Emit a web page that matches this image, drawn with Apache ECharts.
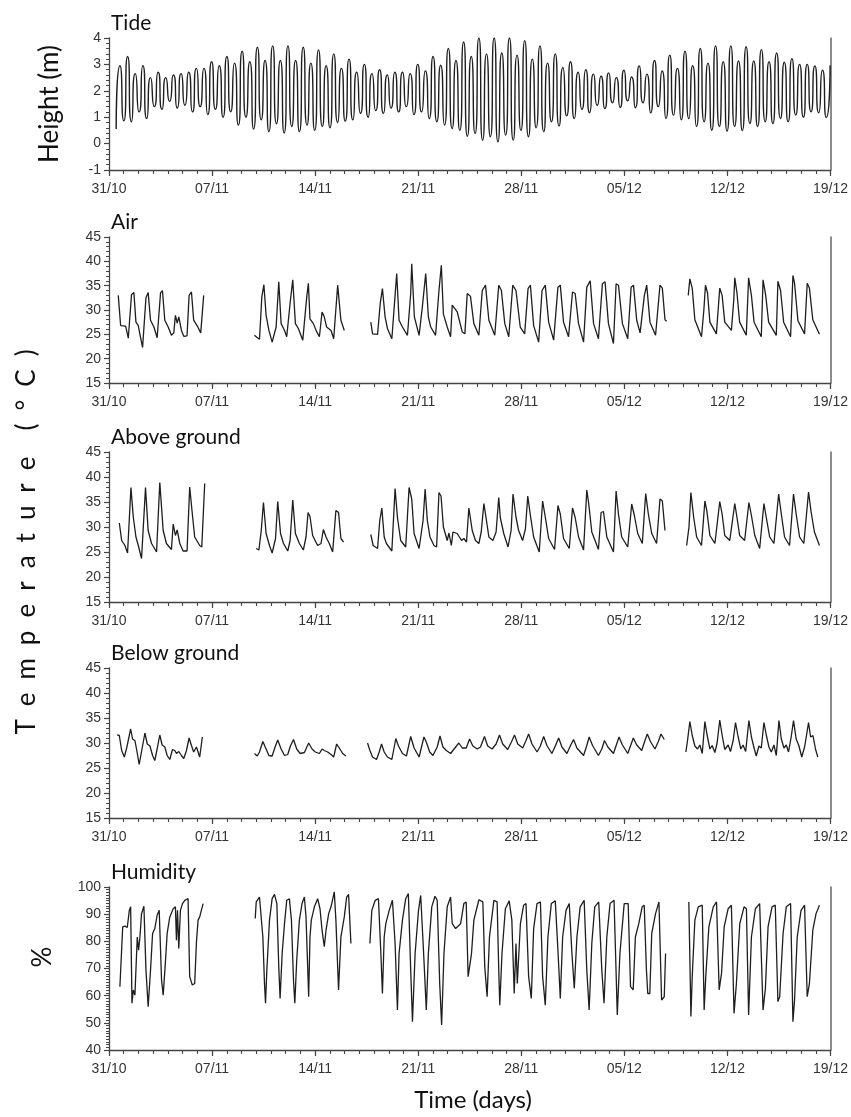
<!DOCTYPE html>
<html>
<head>
<meta charset="utf-8">
<script src="https://cdn.jsdelivr.net/npm/echarts@6/dist/echarts.min.js"></script>
<style>
  html, body { margin: 0; padding: 0; background: #fff; }
  #chart { width: 851px; height: 1117px; }
</style>
</head>
<body>
<div id="chart"></div>
<script>
// x values are days counted from 31/10 00:00
const dateLabels = ['31/10', '07/11', '14/11', '21/11', '28/11', '05/12', '12/12', '19/12'];
const panelTitles = ['Tide', 'Air', 'Above ground', 'Below ground', 'Humidity'];

// tide: successive low / high waters
const tideStart = 0.486;   // first low water (days)
const tideStep = 0.2593;   // low -> high -> low spacing (days)
const tideLevels = [
  0.55, 2.95, 0.86, 3.3, 0.83, 2.65, 1.2, 2.95, 0.95, 2.5, 1.4, 2.7, 1.3, 2.5, 1.6, 2.6, 1.35, 2.65, 1.45, 2.7,
  1.2, 2.85, 1.4, 2.85, 1.1, 3.1, 1.3, 2.95, 1.0, 3.3, 1.2, 3.05, 0.7, 3.5, 1.0, 3.1, 0.55, 3.65, 0.9, 3.15,
  0.45, 3.7, 0.75, 3.15, 0.4, 3.7, 0.65, 3.15, 0.45, 3.65, 0.7, 3.05, 0.5, 3.55, 0.65, 2.95, 0.6, 3.4, 0.8, 2.85,
  0.85, 3.2, 0.9, 2.7, 1.15, 3.0, 1.0, 2.65, 1.25, 2.8, 1.15, 2.6, 1.35, 2.7, 1.2, 2.7, 1.4, 2.65, 1.1, 3.0,
  1.2, 2.75, 0.95, 3.3, 0.83, 2.97, 0.7, 3.6, 0.57, 3.15, 0.5, 3.85, 0.28, 3.3, 0.38, 4.0, 0.13, 3.4, 0.26, 4.0,
  0.07, 3.43, 0.32, 4.0, 0.13, 3.35, 0.5, 3.9, 0.26, 3.2, 0.6, 3.7, 0.45, 3.05, 0.83, 3.4, 0.67, 2.88, 1.05, 3.1,
  0.95, 2.7, 1.3, 2.8, 1.17, 2.63, 1.45, 2.55, 1.33, 2.68, 1.55, 2.5, 1.37, 2.78, 1.62, 2.52, 1.36, 2.94, 1.55, 2.63,
  1.17, 3.15, 1.4, 2.75, 0.95, 3.35, 1.08, 2.85, 0.9, 3.5, 0.95, 2.95, 0.65, 3.6, 0.83, 3.05, 0.5, 3.7, 0.65, 3.1,
  0.47, 3.7, 0.65, 3.13, 0.49, 3.67, 0.76, 3.13, 0.65, 3.56, 0.83, 3.1, 0.76, 3.43, 0.95, 3.08, 0.83, 3.22, 1.08, 3.0,
  1.0, 3.0, 1.2, 2.94, 1.17, 2.78, 0.99, 2.97
];

// air temperature, [day, °C], one array per logging period
const air1 = [[0.63,33.0],[0.79,26.8],[1.13,26.7],[1.31,24.2],[1.53,33.2],[1.69,33.6],[1.83,27.5],[1.99,26.8],[2.10,25.0],[2.28,22.3],[2.51,32.5],[2.66,33.6],[2.82,27.9],[3.05,26.5],[3.27,24.3],[3.50,33.5],[3.63,34.0],[3.79,27.9],[4.02,26.5],[4.24,24.8],[4.40,25.3],[4.51,28.9],[4.63,27.3],[4.74,28.6],[4.92,25.8],[5.08,24.6],[5.30,24.7],[5.44,33.0],[5.60,33.7],[5.75,27.9],[5.98,26.8],[6.23,25.3],[6.43,33.0]];
const air2 = [[9.88,24.8],[10.04,24.4],[10.22,24.0],[10.38,32.7],[10.52,35.2],[10.67,28.9],[10.86,25.8],[11.08,23.4],[11.35,26.5],[11.53,35.8],[11.69,27.2],[11.92,25.8],[12.07,24.5],[12.32,32.0],[12.48,36.2],[12.66,27.2],[12.86,26.2],[13.16,23.8],[13.43,32.7],[13.54,35.5],[13.65,28.2],[13.88,27.2],[14.11,25.5],[14.29,24.5],[14.47,29.6],[14.62,28.6],[14.78,26.5],[15.08,25.8],[15.26,24.1],[15.53,35.1],[15.75,27.9],[15.98,25.8]];
const air3 = [[17.78,27.5],[17.90,25.1],[18.24,25.0],[18.42,31.3],[18.57,34.4],[18.75,28.6],[18.91,26.2],[19.21,24.1],[19.43,33.0],[19.54,37.5],[19.70,27.9],[19.93,26.5],[20.27,24.8],[20.49,33.4],[20.56,39.5],[20.74,28.6],[21.06,24.8],[21.28,30.6],[21.51,37.5],[21.69,28.6],[21.85,26.5],[22.18,24.8],[22.41,34.0],[22.57,39.2],[22.71,29.2],[22.97,26.5],[23.20,24.5],[23.31,31.0],[23.65,29.6],[23.99,25.5],[24.17,25.1],[24.33,33.4],[24.55,32.8],[24.78,27.2],[25.12,24.8],[25.35,34.0],[25.57,35.1],[25.80,27.9],[26.20,24.8],[26.47,35.1],[26.65,34.0],[26.88,27.2],[27.15,24.5],[27.42,35.1],[27.64,34.0],[27.93,26.5],[28.23,25.1],[28.46,34.4],[28.62,35.1],[28.84,26.8],[29.18,23.4],[29.41,34.0],[29.63,35.1],[29.86,27.5],[30.20,23.8],[30.49,34.7],[30.65,35.1],[30.87,27.5],[31.21,24.5],[31.48,33.7],[31.66,33.4],[31.89,27.2],[32.23,23.4],[32.45,34.7],[32.68,36.0],[32.91,27.2],[33.24,24.1],[33.51,35.4],[33.69,35.8],[33.92,27.2],[34.26,23.1],[34.44,35.4],[34.60,35.1],[34.87,27.2],[35.23,24.1],[35.46,34.7],[35.62,35.1],[35.84,27.9],[36.07,25.3],[36.36,33.0],[36.52,35.1],[36.74,27.5],[37.12,24.8],[37.42,35.1],[37.58,34.5],[37.76,28.0],[37.87,27.7]];
const air4 = [[39.34,33.0],[39.45,36.4],[39.61,34.5],[39.79,28.0],[40.24,24.5],[40.40,30.0],[40.51,35.1],[40.65,33.5],[40.81,27.5],[41.25,25.1],[41.37,30.0],[41.48,34.5],[41.64,33.0],[41.82,27.5],[42.27,25.8],[42.43,32.0],[42.50,36.6],[42.65,33.5],[42.83,27.5],[43.28,24.8],[43.44,36.6],[43.63,33.0],[43.81,27.5],[44.30,24.5],[44.42,36.2],[44.60,33.0],[44.80,27.5],[45.32,24.8],[45.43,35.9],[45.61,34.0],[45.82,27.5],[46.29,24.5],[46.45,37.1],[46.56,35.5],[46.79,27.8],[47.24,25.1],[47.42,35.5],[47.57,34.5],[47.80,28.0],[48.25,25.0]];

// above-ground temperature
const above1 = [[0.70,30.8],[0.86,27.3],[1.08,26.3],[1.26,24.8],[1.49,37.9],[1.65,32.0],[1.83,28.0],[1.99,26.3],[2.21,23.7],[2.32,23.5],[2.48,37.9],[2.66,29.3],[2.89,26.7],[3.23,25.0],[3.45,38.9],[3.68,29.3],[3.90,26.7],[4.24,25.5],[4.36,30.6],[4.51,28.3],[4.63,29.4],[4.81,26.7],[5.03,25.2],[5.30,25.2],[5.48,38.0],[5.66,32.6],[5.82,28.0],[6.16,26.3],[6.30,26.0],[6.50,38.7]];
const above2 = [[10.00,25.7],[10.18,25.4],[10.34,29.3],[10.49,34.9],[10.67,28.7],[10.90,26.3],[11.08,24.8],[11.31,27.7],[11.46,35.1],[11.65,28.7],[11.85,26.7],[12.14,25.2],[12.30,27.3],[12.48,35.4],[12.66,28.7],[12.93,26.7],[13.20,25.4],[13.38,28.0],[13.52,32.9],[13.65,32.1],[13.83,28.3],[14.17,26.3],[14.40,26.7],[14.56,29.5],[14.74,28.0],[14.96,26.7],[15.19,25.0],[15.41,33.3],[15.59,32.9],[15.75,27.7],[15.93,27.0]];
const above3 = [[17.78,28.5],[17.94,26.3],[18.24,25.7],[18.39,31.3],[18.53,33.8],[18.69,28.0],[18.84,26.7],[19.21,25.2],[19.43,37.7],[19.59,31.9],[19.81,27.3],[20.15,26.0],[20.38,37.9],[20.56,35.6],[20.72,28.7],[21.06,25.7],[21.33,31.3],[21.47,37.6],[21.62,31.3],[21.80,28.0],[22.07,26.3],[22.25,26.0],[22.41,36.9],[22.55,36.2],[22.71,30.0],[22.97,27.3],[23.09,28.8],[23.25,26.3],[23.36,29.0],[23.65,28.7],[23.94,27.3],[24.10,27.7],[24.28,27.0],[24.44,33.8],[24.67,29.3],[24.89,27.3],[25.12,26.7],[25.28,29.0],[25.46,34.7],[25.62,31.6],[25.80,28.0],[26.07,27.3],[26.29,29.0],[26.47,35.9],[26.58,31.8],[26.81,28.7],[27.10,26.0],[27.31,29.3],[27.44,36.6],[27.64,32.0],[27.82,29.3],[28.09,27.3],[28.28,29.6],[28.44,36.2],[28.62,32.3],[28.84,28.0],[29.22,25.0],[29.45,35.2],[29.63,32.0],[29.86,27.7],[30.26,25.5],[30.49,34.3],[30.65,32.6],[30.87,27.7],[31.26,25.7],[31.48,33.8],[31.66,31.9],[31.89,28.0],[32.23,25.4],[32.45,37.4],[32.57,34.9],[32.79,29.0],[33.24,25.5],[33.42,32.9],[33.58,33.1],[33.81,28.0],[34.26,25.0],[34.44,37.2],[34.60,32.6],[34.82,28.0],[35.23,26.0],[35.50,34.6],[35.68,32.3],[35.91,28.7],[36.22,26.7],[36.45,36.7],[36.63,32.6],[36.86,28.7],[37.19,26.7],[37.42,35.6],[37.58,35.2],[37.76,29.3]];
const above4 = [[39.23,26.3],[39.39,30.0],[39.52,36.9],[39.71,31.9],[39.91,28.0],[40.24,26.3],[40.47,35.2],[40.60,33.3],[40.81,28.3],[41.15,26.7],[41.48,35.1],[41.64,32.6],[41.82,28.3],[42.16,27.3],[42.50,34.7],[42.65,31.9],[42.83,28.3],[43.17,27.3],[43.46,34.9],[43.63,32.3],[43.86,28.3],[44.19,25.7],[44.48,34.7],[44.64,31.9],[44.87,28.0],[45.16,26.7],[45.48,36.6],[45.66,32.6],[45.88,28.0],[46.22,26.3],[46.49,36.6],[46.67,32.6],[46.90,28.0],[47.19,26.7],[47.51,37.0],[47.69,32.9],[47.91,29.0],[48.25,26.3]];

// below-ground temperature
const below1 = [[0.56,31.6],[0.70,31.5],[0.86,28.5],[1.04,27.2],[1.20,29.0],[1.31,29.2],[1.47,32.8],[1.60,30.8],[1.76,30.5],[1.87,28.8],[2.05,25.7],[2.21,28.3],[2.44,32.0],[2.60,29.8],[2.78,29.4],[2.96,27.5],[3.11,26.5],[3.27,28.8],[3.45,31.6],[3.61,29.6],[3.79,29.2],[3.95,27.5],[4.13,26.7],[4.31,28.7],[4.47,28.5],[4.58,27.9],[4.74,28.3],[4.92,27.5],[5.08,26.9],[5.26,28.5],[5.44,31.0],[5.60,29.5],[5.75,28.2],[5.94,29.2],[6.16,27.2],[6.34,31.2]];
const below2 = [[9.88,27.9],[10.07,27.4],[10.22,28.2],[10.45,30.3],[10.61,29.2],[10.86,27.5],[11.08,27.4],[11.28,29.2],[11.46,30.6],[11.69,28.8],[11.92,27.5],[12.14,27.7],[12.32,29.4],[12.53,30.7],[12.75,28.8],[12.98,27.9],[13.27,28.1],[13.56,30.0],[13.79,28.8],[14.01,28.2],[14.29,27.9],[14.47,28.8],[14.62,28.5],[14.85,28.2],[15.08,27.7],[15.26,27.2],[15.46,29.8],[15.64,29.0],[15.87,27.9],[16.09,27.4]];
const below3 = [[17.56,30.0],[17.72,28.5],[17.90,27.2],[18.17,26.7],[18.35,28.2],[18.51,29.8],[18.69,28.2],[18.91,27.2],[19.21,26.7],[19.48,30.9],[19.66,29.4],[19.93,27.9],[20.20,27.4],[20.49,31.3],[20.72,29.0],[21.06,27.2],[21.39,31.2],[21.55,30.2],[21.78,28.2],[22.00,27.5],[22.29,29.2],[22.48,31.4],[22.68,29.2],[22.91,28.5],[23.20,27.9],[23.49,29.0],[23.76,30.0],[23.99,29.0],[24.26,29.0],[24.49,30.8],[24.71,29.4],[25.01,28.8],[25.23,29.2],[25.50,31.3],[25.72,29.4],[26.02,28.8],[26.29,29.8],[26.52,31.6],[26.74,29.8],[27.08,28.7],[27.33,30.2],[27.54,31.6],[27.76,29.8],[28.10,29.0],[28.32,30.5],[28.50,31.8],[28.73,29.8],[29.07,28.2],[29.30,29.4],[29.52,31.3],[29.74,29.5],[30.08,27.9],[30.31,29.4],[30.54,31.0],[30.76,29.2],[31.10,27.9],[31.33,29.4],[31.55,30.7],[31.78,29.0],[32.23,27.5],[32.45,29.5],[32.61,31.2],[32.84,29.5],[33.24,27.5],[33.47,28.8],[33.65,30.5],[33.88,29.2],[34.26,27.9],[34.48,29.8],[34.64,31.2],[34.87,29.6],[35.23,27.9],[35.43,29.5],[35.61,31.0],[35.84,29.6],[36.18,28.5],[36.40,30.5],[36.56,31.8],[36.79,30.2],[37.08,28.8],[37.31,30.3],[37.49,31.8],[37.71,30.7]];
const below4 = [[39.18,28.2],[39.29,30.5],[39.45,34.3],[39.61,31.5],[39.79,29.4],[39.97,28.8],[40.13,29.6],[40.29,27.9],[40.47,34.3],[40.62,31.6],[40.81,28.8],[40.96,29.5],[41.15,28.1],[41.30,30.0],[41.48,34.6],[41.64,31.6],[41.82,28.7],[42.05,29.6],[42.21,28.3],[42.39,30.5],[42.55,34.1],[42.73,31.2],[42.91,28.8],[43.06,29.6],[43.24,28.3],[43.35,31.4],[43.46,34.5],[43.63,31.2],[43.81,29.0],[43.96,27.4],[44.14,29.4],[44.30,29.0],[44.48,34.1],[44.64,31.6],[44.82,29.2],[44.98,28.2],[45.16,29.6],[45.32,27.5],[45.50,34.5],[45.66,30.8],[45.84,29.0],[46.00,29.6],[46.15,28.2],[46.33,31.2],[46.49,34.5],[46.67,30.8],[46.85,29.5],[47.05,27.2],[47.24,29.2],[47.37,31.5],[47.51,34.1],[47.65,31.2],[47.81,31.5],[47.98,28.8],[48.14,27.2]];

// relative humidity, [day, %]
const hum1 = [[0.74,63.3],[0.93,85.3],[1.08,85.6],[1.24,85.1],[1.38,91.4],[1.47,92.7],[1.56,57.2],[1.65,62.1],[1.76,60.2],[1.92,81.6],[2.01,76.7],[2.10,81.6],[2.21,90.2],[2.37,92.9],[2.51,69.4],[2.66,55.9],[2.82,69.4],[2.96,82.9],[3.11,84.7],[3.27,89.6],[3.41,91.4],[3.57,65.7],[3.68,60.2],[3.81,70.6],[3.95,82.9],[4.13,89.0],[4.36,92.0],[4.51,92.7],[4.58,80.4],[4.65,91.4],[4.74,77.4],[4.85,91.4],[4.99,93.9],[5.15,95.1],[5.37,95.7],[5.48,67.0],[5.66,63.9],[5.82,64.5],[5.94,79.8],[6.05,87.8],[6.16,89.0],[6.39,93.9]];
const hum2 = [[9.93,88.4],[10.00,94.5],[10.22,96.3],[10.34,96.6],[10.45,81.6],[10.56,64.5],[10.63,57.2],[10.72,69.4],[10.90,87.8],[11.08,95.7],[11.24,97.3],[11.40,93.9],[11.53,70.6],[11.62,59.0],[11.76,75.5],[11.92,86.5],[12.07,95.1],[12.25,95.7],[12.39,87.8],[12.53,65.7],[12.62,57.2],[12.75,73.1],[12.93,87.8],[13.11,93.9],[13.27,96.3],[13.38,89.0],[13.50,69.4],[13.56,59.6],[13.65,81.6],[13.74,87.8],[13.95,92.7],[14.17,95.7],[14.33,92.0],[14.47,84.1],[14.62,78.0],[14.74,84.1],[14.92,90.2],[15.08,92.7],[15.30,98.2],[15.41,87.8],[15.59,62.1],[15.75,81.6],[15.98,89.0],[16.14,96.3],[16.27,97.3],[16.43,79.2]];
const hum3 = [[17.72,79.2],[17.85,91.4],[18.08,95.1],[18.30,95.7],[18.46,76.1],[18.57,60.8],[18.69,81.6],[18.80,86.5],[19.03,91.4],[19.25,95.1],[19.43,79.2],[19.59,54.7],[19.70,75.5],[19.93,87.8],[20.15,95.7],[20.33,97.6],[20.49,69.4],[20.61,50.4],[20.79,75.5],[21.02,91.4],[21.17,96.9],[21.39,73.1],[21.55,54.7],[21.69,75.5],[21.92,92.7],[22.14,96.6],[22.29,95.1],[22.46,64.5],[22.59,49.2],[22.75,75.5],[22.97,92.7],[23.20,96.3],[23.31,86.5],[23.54,84.7],[23.88,86.5],[24.10,93.9],[24.26,94.5],[24.39,67.0],[24.49,66.3],[24.62,75.5],[24.78,87.8],[25.12,95.3],[25.39,94.5],[25.52,70.6],[25.68,59.6],[25.84,81.6],[26.14,95.1],[26.36,94.5],[26.47,69.4],[26.54,56.5],[26.69,75.5],[26.92,92.0],[27.18,94.9],[27.36,87.8],[27.52,60.8],[27.64,79.2],[27.73,64.5],[27.94,86.5],[28.16,93.3],[28.32,93.9],[28.50,67.0],[28.68,59.0],[28.84,84.7],[29.07,93.9],[29.30,94.5],[29.45,67.0],[29.63,56.5],[29.81,81.6],[30.04,93.9],[30.31,94.9],[30.49,76.7],[30.65,59.0],[30.81,81.6],[31.04,91.4],[31.26,93.9],[31.44,75.5],[31.60,62.7],[31.78,81.6],[32.00,92.7],[32.27,95.1],[32.45,69.4],[32.61,54.7],[32.79,79.2],[32.99,92.7],[33.26,94.5],[33.47,69.4],[33.62,57.2],[33.81,81.6],[34.03,93.9],[34.30,95.1],[34.41,74.3],[34.52,52.9],[34.70,75.5],[34.99,93.9],[35.26,93.9],[35.42,63.3],[35.60,62.1],[35.75,81.6],[35.98,86.5],[36.21,92.7],[36.35,93.3],[36.50,69.4],[36.59,60.8],[36.73,60.8],[36.86,82.9],[37.12,90.2],[37.35,94.5],[37.53,58.4],[37.71,59.6],[37.80,75.5]];
const hum4 = [[39.38,94.5],[39.52,52.3],[39.61,67.0],[39.79,87.8],[40.02,92.7],[40.29,93.3],[40.42,54.7],[40.53,67.0],[40.74,85.3],[41.04,92.7],[41.26,94.5],[41.44,62.1],[41.60,68.2],[41.78,85.3],[42.05,92.0],[42.27,93.3],[42.45,53.5],[42.61,64.5],[42.84,86.5],[43.13,92.7],[43.29,92.0],[43.44,52.9],[43.63,81.6],[43.90,92.0],[44.19,93.9],[44.42,54.7],[44.58,62.7],[44.76,85.3],[45.03,92.7],[45.25,93.3],[45.43,57.8],[45.55,59.6],[45.78,82.9],[46.00,92.7],[46.29,93.9],[46.45,50.4],[46.56,58.4],[46.74,81.6],[47.00,91.4],[47.24,93.3],[47.42,59.6],[47.57,64.5],[47.80,84.1],[48.02,90.2],[48.25,93.3]];

const tide = tideLevels.map((v, i) => [tideStart + i * tideStep, v]);

const panels = [
  { top: 38,  height: 132, min: -1, max: 4,   step: 1,  minorStep: 0.2, lines: [tide], smooth: 0.9, width: 1.4 },
  { top: 237, height: 146, min: 15, max: 45,  step: 5,  minorStep: 1,   lines: [air1, air2, air3, air4] },
  { top: 452, height: 150, min: 15, max: 45,  step: 5,  minorStep: 1,   lines: [above1, above2, above3, above4] },
  { top: 668, height: 150, min: 15, max: 45,  step: 5,  minorStep: 1,   lines: [below1, below2, below3, below4] },
  { top: 887, height: 163, min: 40, max: 100, step: 10, minorStep: 1,   lines: [hum1, hum2, hum3, hum4] }
];

const axisColor = '#444';
const labelFont = { color: '#333', fontSize: 14, fontFamily: 'Liberation Sans, Arial, sans-serif' };

const grid = [], xAxis = [], yAxis = [], series = [], graphic = [];

panels.forEach((p, k) => {
  grid.push({ left: 109, right: 18, top: p.top, height: p.height });

  // labelled x axis, one tick per week
  xAxis.push({
    gridIndex: k, type: 'value', position: 'bottom', min: 0, max: 49, interval: 7,
    axisLine: { onZero: false, lineStyle: { color: axisColor, width: 1.3 } },
    axisTick: { length: 6, lineStyle: { color: axisColor, width: 1.2 } },
    splitLine: { show: false },
    axisLabel: Object.assign({ margin: 12, formatter: v => dateLabels[Math.round(v / 7)] }, labelFont)
  });
  // short daily ticks
  xAxis.push({
    gridIndex: k, type: 'value', position: 'bottom', min: 0, max: 49, interval: 1,
    axisLine: { show: false, onZero: false },
    axisTick: { length: 4, lineStyle: { color: axisColor, width: 1.1 } },
    axisLabel: { show: false }, splitLine: { show: false }
  });

  yAxis.push({
    gridIndex: k, type: 'value', position: 'left', min: p.min, max: p.max, interval: p.step,
    axisLine: { show: true, onZero: false, lineStyle: { color: axisColor, width: 1.3 } },
    axisTick: { show: true, length: 5, lineStyle: { color: axisColor, width: 1.2 } },
    splitLine: { show: false },
    axisLabel: Object.assign({ margin: 8 }, labelFont)
  });
  // plain right-hand frame line
  yAxis.push({
    gridIndex: k, type: 'value', position: 'right', min: p.min, max: p.max,
    axisLine: { show: true, onZero: false, lineStyle: { color: '#666', width: 1.5 } },
    axisTick: { show: false }, axisLabel: { show: false }, splitLine: { show: false }
  });
  // short minor ticks on the left
  yAxis.push({
    gridIndex: k, type: 'value', position: 'left', offset: 0, min: p.min, max: p.max, interval: p.minorStep,
    axisLine: { show: false, onZero: false },
    axisTick: { show: true, length: 3, lineStyle: { color: axisColor, width: 1 } },
    axisLabel: { show: false }, splitLine: { show: false }
  });

  p.lines.forEach(seg => {
    series.push({
      type: 'line', xAxisIndex: k * 2, yAxisIndex: k * 3, data: seg,
      showSymbol: false, smooth: p.smooth || false,
      lineStyle: { color: '#1e1e1e', width: p.width || 1.3 }
    });
  });

  graphic.push({
    type: 'text', x: 111, y: p.top - 15,
    style: { text: panelTitles[k], font: '21px Lato, "Noto Sans", sans-serif', fill: '#111', textVerticalAlign: 'middle' }
  });
});

const bigFont = '26px Lato, "Noto Sans", sans-serif';
const gap = '\u2002';
graphic.push(
  { type: 'text', x: 50, y: 104, rotation: Math.PI / 2,
    style: { text: 'Height (m)', font: bigFont, fill: '#111', textAlign: 'center', textVerticalAlign: 'middle' } },
  { type: 'text', x: 27, y: 542, rotation: Math.PI / 2,
    style: { text: 'Temperature'.split('').join(gap) + gap + gap + '(' + gap + '°' + gap + 'C' + gap + ')',
      font: bigFont, fill: '#111', textAlign: 'center', textVerticalAlign: 'middle' } },
  { type: 'text', x: 43, y: 957, rotation: Math.PI / 2,
    style: { text: '%', font: bigFont, fill: '#111', textAlign: 'center', textVerticalAlign: 'middle' } },
  { type: 'text', x: 473, y: 1100,
    style: { text: 'Time (days)', font: '24px Lato, "Noto Sans", sans-serif', fill: '#111', textAlign: 'center', textVerticalAlign: 'middle' } }
);

const chart = echarts.init(document.getElementById('chart'), null, { renderer: 'canvas' });
chart.setOption({
  animation: false,
  backgroundColor: '#fff',
  grid, xAxis, yAxis, series, graphic
});
</script>
</body>
</html>
